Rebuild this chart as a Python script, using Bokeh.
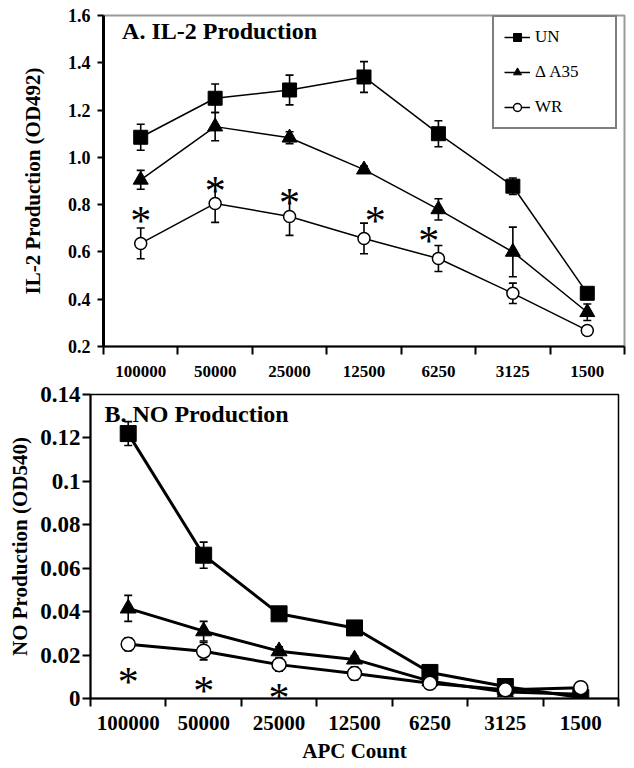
from bokeh.plotting import figure
from bokeh.models import (ColumnDataSource, Whisker, TeeHead, Legend, LegendItem,
                          FixedTicker, Label, Range1d)
from bokeh.core.properties import value
from bokeh.embed import file_html
from bokeh.resources import INLINE

FONT = "Liberation Serif"

# ---------------- data ----------------
categories = ["100000", "50000", "25000", "12500", "6250", "3125", "1500"]

# Panel A: IL-2 production (OD492)
il2_un = [1.085, 1.25, 1.285, 1.34, 1.10, 0.878, 0.425]
il2_un_err = [0.055, 0.06, 0.063, 0.065, 0.055, 0.035, 0.02]
il2_a35 = [0.905, 1.13, 1.083, 0.948, 0.78, 0.60, 0.345]
il2_a35_err = [0.04, 0.06, 0.025, 0.015, 0.045, 0.105, 0.035]
il2_wr = [0.636, 0.805, 0.75, 0.657, 0.572, 0.425, 0.268]
il2_wr_err = [0.065, 0.08, 0.08, 0.065, 0.055, 0.043, 0.02]
il2_star_x = [0, 1, 2, 3.15, 3.87]
il2_star_y = [0.763, 0.89, 0.84, 0.763, 0.68]
il2_yticks = [0.2, 0.4, 0.6, 0.8, 1.0, 1.2, 1.4, 1.6]

# Panel B: NO production (OD540)
no_un = [0.122, 0.066, 0.039, 0.0325, 0.012, 0.0055, 0.0005]
no_un_err = [0.0055, 0.006, 0.0015, 0.001, 0.0015, 0.001, 0.0005]
no_a35 = [0.0415, 0.031, 0.0218, 0.018, 0.008, 0.003, 0.002]
no_a35_err = [0.006, 0.0045, 0.002, 0.0015, 0.001, 0.0008, 0.0005]
no_wr = [0.025, 0.0218, 0.0156, 0.0115, 0.007, 0.004, 0.005]
no_wr_err = [0.003, 0.004, 0.003, 0.003, 0.001, 0.001, 0.0008]
no_star_x = [0, 1, 2]
no_star_y = [0.0115, 0.007, 0.004]
no_yticks = [0, 0.02, 0.04, 0.06, 0.08, 0.1, 0.12, 0.14]
no_ytick_labels = ["0", "0.02", "0.04", "0.06", "0.08", "0.1", "0.12", "0.14"]

xs = list(range(len(categories)))
bounds = [i - 0.5 for i in range(len(categories) + 1)]


def style_x(p, label_size, standoff, title=None, title_standoff=0):
    ax = p.xaxis[0]
    ax.ticker = FixedTicker(ticks=xs, minor_ticks=bounds)
    ax.major_label_overrides = {i: c for i, c in zip(xs, categories)}
    ax.major_tick_line_color = None
    ax.major_tick_out = 8
    ax.major_tick_in = 0
    ax.minor_tick_out = 8
    ax.minor_tick_in = 0
    ax.minor_tick_line_width = 2
    ax.minor_tick_line_color = "black"
    ax.axis_line_width = 2
    ax.axis_line_color = "black"
    ax.major_label_standoff = standoff
    ax.major_label_text_font = FONT
    ax.major_label_text_font_style = "bold"
    ax.major_label_text_font_size = label_size
    ax.major_label_text_color = "black"
    if title:
        ax.axis_label = title
        ax.axis_label_text_font = FONT
        ax.axis_label_text_font_style = "bold"
        ax.axis_label_text_font_size = "21px"
        ax.axis_label_text_color = "black"
        ax.axis_label_standoff = title_standoff


def style_y(p, ticks, labels, title, size, lw, tick_out, lab_standoff, standoff):
    ax = p.yaxis[0]
    ax.ticker = FixedTicker(ticks=ticks)
    ax.major_label_overrides = {t: l for t, l in zip(ticks, labels)}
    ax.major_label_text_font = FONT
    ax.major_label_text_font_style = "bold"
    ax.major_label_text_font_size = size
    ax.major_label_text_color = "black"
    ax.major_label_standoff = lab_standoff
    ax.axis_line_width = lw
    ax.axis_line_color = "black"
    ax.major_tick_line_width = 2
    ax.major_tick_out = tick_out
    ax.major_tick_in = 0
    ax.minor_tick_line_color = None
    ax.axis_label = title
    ax.axis_label_text_font = FONT
    ax.axis_label_text_font_style = "bold"
    ax.axis_label_text_font_size = "21px"
    ax.axis_label_text_color = "black"
    ax.axis_label_standoff = standoff


def series(p, y, err, marker, size, fill, lw, mlw):
    src = ColumnDataSource(dict(x=xs, y=y,
                                upper=[a + b for a, b in zip(y, err)],
                                lower=[a - b for a, b in zip(y, err)]))
    w = Whisker(base="x", upper="upper", lower="lower", source=src, dimension="height",
                line_width=1.6, line_color="black", level="underlay",
                upper_head=TeeHead(size=8, line_width=1.6, line_color="black"),
                lower_head=TeeHead(size=8, line_width=1.6, line_color="black"))
    p.add_layout(w)
    ln = p.line("x", "y", source=src, line_color="black", line_width=lw)
    sc = p.scatter("x", "y", source=src, marker=marker, size=size, fill_color=fill,
                   line_color="black", line_width=mlw)
    return ln, sc


# ---------------- Panel A ----------------
p1 = figure(width=630, height=383, x_range=Range1d(-0.5, 6.5), y_range=Range1d(0.2, 1.6),
            output_backend="svg", toolbar_location=None,
            min_border_left=103, min_border_right=6, min_border_top=15, min_border_bottom=37)
p1.grid.visible = False
p1.outline_line_color = "#9a9a9a"
p1.outline_line_width = 2
style_y(p1, il2_yticks, ["%.1f" % t for t in il2_yticks], "IL-2 Production (OD492)",
        "18px", 3, 6, 7, 20)
style_x(p1, "17px", 11)

r_un = series(p1, il2_un, il2_un_err, "square", 14, "black", 1.5, 1)
r_a35 = series(p1, il2_a35, il2_a35_err, "triangle", 15, "black", 1.5, 1)
r_wr = series(p1, il2_wr, il2_wr_err, "circle", 12, "white", 1.5, 1.5)

p1.text(x=il2_star_x, y=il2_star_y, text=["*"] * len(il2_star_x),
        text_font=value(FONT), text_font_size="42px", text_align="center",
        text_baseline="middle", y_offset=8, text_color="black")

p1.add_layout(Label(x=-0.25, y=1.588, text="A. IL-2 Production", text_font=FONT,
                    text_font_style="bold", text_font_size="24px", text_baseline="top",
                    text_color="black"))

legend = Legend(items=[LegendItem(label="UN", renderers=list(r_un)),
                       LegendItem(label="Δ A35", renderers=list(r_a35)),
                       LegendItem(label="WR", renderers=list(r_wr))],
                location=(389, 217), border_line_color="black", border_line_width=2.5,
                label_text_font=FONT, label_text_font_size="17px", label_text_color="black",
                glyph_width=26, glyph_height=20, spacing=15, padding=10,
                label_standoff=5, label_width=70, background_fill_alpha=1)
p1.add_layout(legend)

# ---------------- Panel B ----------------
p2 = figure(width=630, height=385, x_range=Range1d(-0.5, 6.5), y_range=Range1d(0, 0.14),
            output_backend="svg", toolbar_location=None,
            min_border_left=90, min_border_right=12, min_border_top=11, min_border_bottom=70)
p2.grid.visible = False
p2.outline_line_color = "black"
p2.outline_line_width = 1.5
style_y(p2, no_yticks, no_ytick_labels, "NO Production (OD540)", "23px", 2, 8, 2, 5)
style_x(p2, "21px", 9, "APC Count", 6)

series(p2, no_un, no_un_err, "square", 16, "black", 3, 1)
series(p2, no_a35, no_a35_err, "triangle", 16, "black", 3, 1)
series(p2, no_wr, no_wr_err, "circle", 14, "white", 3, 1.5)

p2.text(x=no_star_x, y=no_star_y, text=["*"] * len(no_star_x),
        text_font=value(FONT), text_font_size="42px", text_align="center",
        text_baseline="middle", y_offset=8, text_color="black")

p2.add_layout(Label(x=-0.315, y=0.1372, text="B. NO Production", text_font=FONT,
                    text_font_style="bold", text_font_size="24px", text_baseline="top",
                    text_color="black"))

open("out.html", "w").write(file_html([p1, p2], INLINE))
